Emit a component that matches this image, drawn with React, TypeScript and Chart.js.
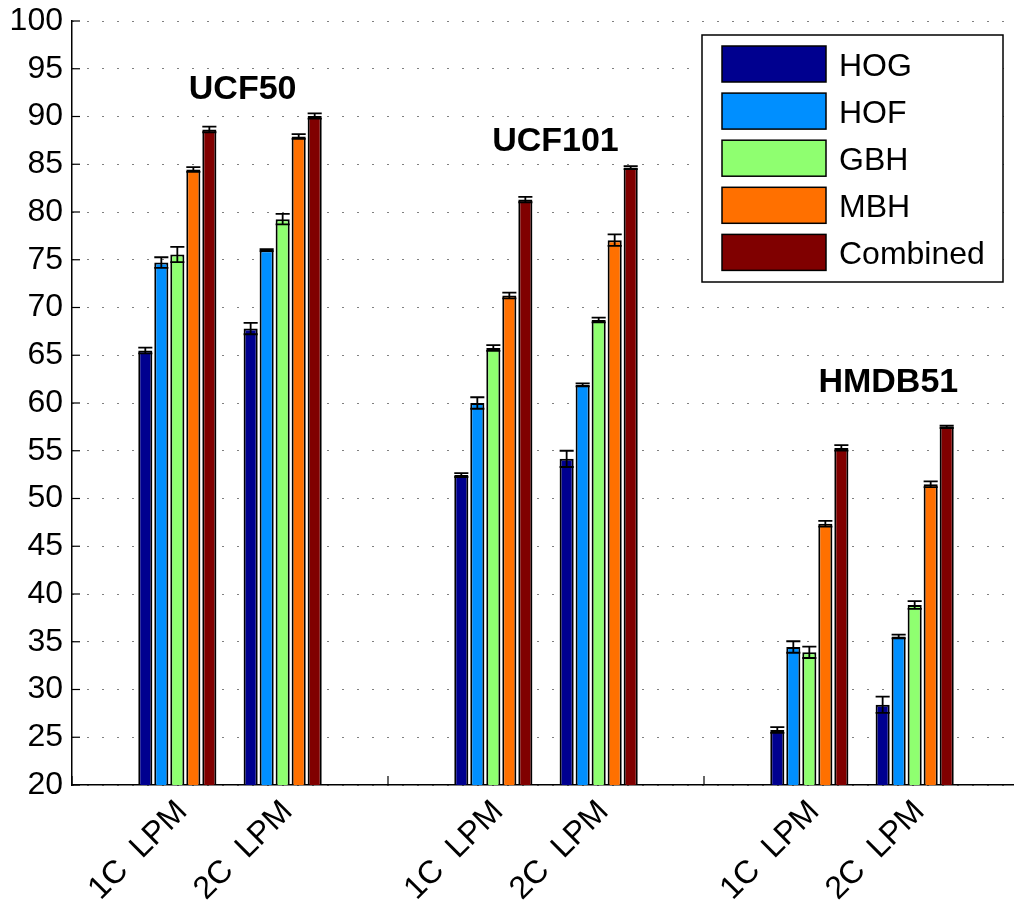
import React, { useEffect, useRef } from "react";
import { Chart, registerables } from "chart.js";

Chart.register(...registerables);

const FONT = "'Liberation Sans', Arial, Helvetica, sans-serif";

const categories = ["", "1C  LPM", "2C  LPM", "", "1C  LPM", "2C  LPM", "", "1C  LPM", "2C  LPM", ""];
const seriesNames = ["HOG", "HOF", "GBH", "MBH", "Combined"];
const seriesColors = ["#00008F", "#008FFF", "#8FFF70", "#FF7000", "#800000"];

const hogValues = [null, 65.5, 67.8, null, 52.45, 54.15, null, 25.75, 28.4, null];
const hofValues = [null, 74.7, 76.0, null, 60.0, 61.9, null, 34.45, 35.55, null];
const gbhValues = [null, 75.55, 79.25, null, 65.75, 68.7, null, 33.9, 38.85, null];
const mbhValues = [null, 84.45, 87.9, null, 71.25, 77.05, null, 47.35, 51.5, null];
const combinedValues = [null, 88.65, 90.05, null, 81.3, 84.65, null, 55.3, 57.5, null];

const hogErrors = [null, 0.3, 0.6, null, 0.2, 0.85, null, 0.3, 0.85, null];
const hofErrors = [null, 0.56, 0.1, null, 0.6, 0.15, null, 0.6, 0.2, null];
const gbhErrors = [null, 0.8, 0.55, null, 0.3, 0.25, null, 0.6, 0.4, null];
const mbhErrors = [null, 0.25, 0.25, null, 0.3, 0.6, null, 0.3, 0.3, null];
const combinedErrors = [null, 0.3, 0.28, null, 0.28, 0.15, null, 0.28, 0.12, null];

const seriesValues = [hogValues, hofValues, gbhValues, mbhValues, combinedValues];
const seriesErrors = [hogErrors, hofErrors, gbhErrors, mbhErrors, combinedErrors];

const yMin = 20;
const yMax = 100;
const yStep = 5;

const groupTitles = ["UCF50", "UCF101", "HMDB51"];
const groupTitleX = [1.62, 4.59, 7.75];
const groupTitleY = [92.8, 87.4, 62.1];

const decorPlugin = {
  id: "decor",
  beforeDatasetsDraw(chart: any) {
    const { ctx, chartArea, scales } = chart;
    const xs = scales.x;
    const ys = scales.y;
    ctx.save();
    ctx.strokeStyle = "#000";
    ctx.lineWidth = 1.2;
    for (let i = 0; i < categories.length; i++) {
      const px = xs.getPixelForValue(i);
      ctx.beginPath();
      ctx.moveTo(px, chartArea.bottom);
      ctx.lineTo(px, chartArea.bottom - 9);
      ctx.stroke();
    }
    for (let v = yMin; v <= yMax; v += yStep) {
      const py = ys.getPixelForValue(v);
      ctx.beginPath();
      ctx.moveTo(chartArea.left, py);
      ctx.lineTo(chartArea.left + 8, py);
      ctx.stroke();
    }
    ctx.restore();
  },
  afterDatasetsDraw(chart: any) {
    const { ctx, scales } = chart;
    const ys = scales.y;
    const xs = scales.x;
    ctx.save();
    ctx.strokeStyle = "#000";
    ctx.lineWidth = 1.8;
    seriesValues.forEach((vals, di) => {
      const meta = chart.getDatasetMeta(di);
      vals.forEach((v, j) => {
        const e = seriesErrors[di][j];
        if (v === null || e === null) return;
        const el = meta.data[j];
        if (!el) return;
        const cx = el.x;
        const hw = el.width / 2;
        const yTop = ys.getPixelForValue(v + e);
        const yBot = ys.getPixelForValue(v - e);
        ctx.beginPath();
        ctx.moveTo(cx, yTop);
        ctx.lineTo(cx, yBot);
        ctx.moveTo(cx - hw, yTop);
        ctx.lineTo(cx + hw, yTop);
        ctx.moveTo(cx - hw, yBot);
        ctx.lineTo(cx + hw, yBot);
        ctx.stroke();
      });
    });
    ctx.fillStyle = "#000";
    ctx.font = `bold 34px ${FONT}`;
    ctx.textAlign = "center";
    ctx.textBaseline = "middle";
    groupTitles.forEach((t, i) => {
      ctx.fillText(t, xs.getPixelForValue(groupTitleX[i]), ys.getPixelForValue(groupTitleY[i]));
    });
    ctx.restore();
  },
  afterDraw(chart: any) {
    const { ctx } = chart;
    const bx = 702;
    const by = 35;
    const bw = 301;
    const bh = 247;
    ctx.save();
    ctx.fillStyle = "#fff";
    ctx.fillRect(bx, by, bw, bh);
    ctx.strokeStyle = "#000";
    ctx.lineWidth = 1.5;
    ctx.strokeRect(bx, by, bw, bh);
    ctx.font = `32px ${FONT}`;
    ctx.textAlign = "left";
    ctx.textBaseline = "middle";
    seriesNames.forEach((name, i) => {
      const sy = 46 + i * 47.1;
      ctx.fillStyle = seriesColors[i];
      ctx.fillRect(722, sy, 104, 36);
      ctx.lineWidth = 1.5;
      ctx.strokeStyle = "#000";
      ctx.strokeRect(722, sy, 104, 36);
      ctx.fillStyle = "#000";
      ctx.fillText(name, 839, sy + 21);
    });
    ctx.restore();
  },
};

export default function App() {
  const canvasRef = useRef<HTMLCanvasElement | null>(null);

  useEffect(() => {
    if (!canvasRef.current) return;
    const chart = new Chart(canvasRef.current, {
      type: "bar",
      data: {
        labels: categories,
        datasets: seriesNames.map((name, i) => ({
          label: name,
          data: seriesValues[i],
          backgroundColor: seriesColors[i],
          borderColor: "#000",
          borderWidth: 2,
          categoryPercentage: 0.76,
          barPercentage: 0.88,
        })),
      },
      options: {
        responsive: false,
        animation: false,
        layout: { padding: { top: 21, right: 10, left: 0, bottom: 0 } },
        plugins: {
          legend: { display: false },
          tooltip: { enabled: false },
        },
        scales: {
          x: {
            type: "category",
            offset: false,
            grid: { display: false },
            border: { display: true, color: "#000", width: 1.5 },
            ticks: {
              autoSkip: false,
              minRotation: 45,
              maxRotation: 45,
              padding: 0,
              labelOffset: 5,
              color: "#000",
              font: { family: FONT, size: 32 },
            },
            afterFit: (s: any) => {
              s.height = 119;
              s.paddingLeft = 0;
              s.paddingRight = 0;
            },
          },
          y: {
            min: yMin,
            max: yMax,
            ticks: {
              stepSize: yStep,
              padding: 9,
              color: "#000",
              font: { family: FONT, size: 32 },
            },
            grid: { color: "#000", lineWidth: 1, drawTicks: false },
            border: { display: true, color: "#000", width: 1.5, dash: [1, 14] },
            afterFit: (s: any) => {
              s.width = 72;
              s.paddingTop = 0;
              s.paddingBottom = 0;
            },
          },
        },
      },
      plugins: [decorPlugin],
    });
    return () => chart.destroy();
  }, []);

  return (
    <div
      style={{
        position: "absolute",
        left: 0,
        top: 0,
        width: 1014,
        height: 904,
        overflow: "hidden",
        background: "#fff",
      }}
    >
      <canvas ref={canvasRef} width={1030} height={904} style={{ display: "block" }} />
    </div>
  );
}
